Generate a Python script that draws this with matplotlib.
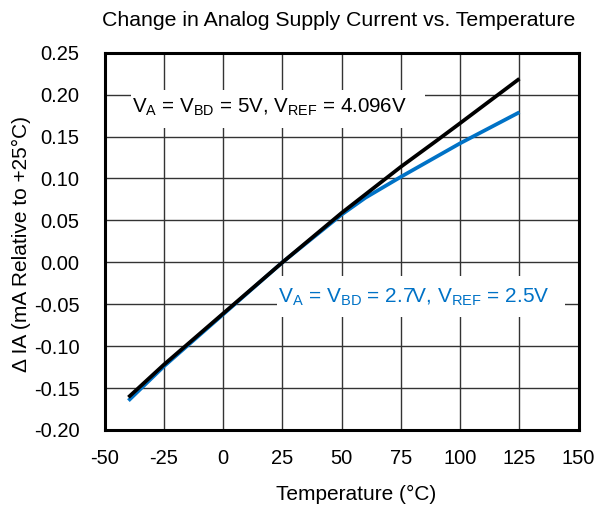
import matplotlib
matplotlib.use("Agg")
import matplotlib.pyplot as plt
from matplotlib.patches import Rectangle

plt.rcParams['font.family'] = ['Liberation Sans', 'DejaVu Sans']
plt.rcParams['mathtext.default'] = 'regular'

# Supply current change relative to +25°C (mA)
temp_5v = [-40, -25, 0, 25, 50, 75, 90, 100, 125]
ia_5v = [-0.161, -0.122, -0.061, 0.0, 0.059, 0.114, 0.145, 0.166, 0.219]
temp_2v7 = [-40, -25, 0, 25, 50, 60, 75, 90, 100, 125]
ia_2v7 = [-0.165, -0.124, -0.062, 0.0, 0.057, 0.077, 0.102, 0.126, 0.142, 0.179]

x_ticks = [-50, -25, 0, 25, 50, 75, 100, 125, 150]
y_ticks = [-0.20, -0.15, -0.10, -0.05, 0.00, 0.05, 0.10, 0.15, 0.20, 0.25]

blue = '#0072C6'

fig = plt.figure(figsize=(5.97, 5.07), dpi=100)
ax = fig.add_axes([0.1754, 0.1519, 0.7939, 0.7441])

ax.plot(temp_2v7, ia_2v7, color=blue, lw=2.7, solid_capstyle='butt',
        solid_joinstyle='round', zorder=3)
ax.plot(temp_5v, ia_5v, color='black', lw=2.7, solid_capstyle='butt',
        solid_joinstyle='round', zorder=4)

ax.set_xlim(-50, 150)
ax.set_ylim(-0.20, 0.25)
ax.set_xticks(x_ticks)
ax.set_yticks(y_ticks)
ax.set_xticklabels([str(v) for v in x_ticks])
ax.set_yticklabels([f"{v:.2f}" for v in y_ticks])
ax.tick_params(length=0, labelsize=14.5)
ax.tick_params(axis='x', pad=14)
ax.tick_params(axis='y', pad=18)
ax.grid(True, color='#333333', lw=1.0)
ax.set_axisbelow(True)
for s in ax.spines.values():
    s.set_linewidth(2.2)
    s.set_color('black')

ax.set_xlabel('Temperature (°C)', fontsize=15)
ax.xaxis.set_label_coords(0.530, -0.172)
ax.xaxis.label.set_va('center')
ax.set_ylabel('Δ IA (mA Relative to +25°C)', fontsize=15)
ax.yaxis.set_label_coords(-0.1766, 0.493)
ax.yaxis.label.set_va('center')
fig.suptitle('Change in Analog Supply Current vs. Temperature', fontsize=15.3,
             x=0.567, y=0.96, va='center')

# white label backgrounds that mask the grid
ax.add_patch(Rectangle((0.0549, 0.800), 0.621, 0.101, transform=ax.transAxes,
                       facecolor='white', edgecolor='none', zorder=2))
ax.add_patch(Rectangle((0.363, 0.300), 0.608, 0.108, transform=ax.transAxes,
                       facecolor='white', edgecolor='none', zorder=2))

ax.text(-38.3, 0.185, r'V$_{A}$ = V$_{BD}$ = 5V, V$_{REF}$ = 4.096V',
        fontsize=14.8, color='black', va='center', ha='left', zorder=5)
ax.text(23.1, -0.0415, r'V$_{A}$ = V$_{BD}$ = 2.7V, V$_{REF}$ = 2.5V',
        fontsize=15, color=blue, va='center', ha='left', zorder=5)

fig.savefig('out.png', dpi=100)
